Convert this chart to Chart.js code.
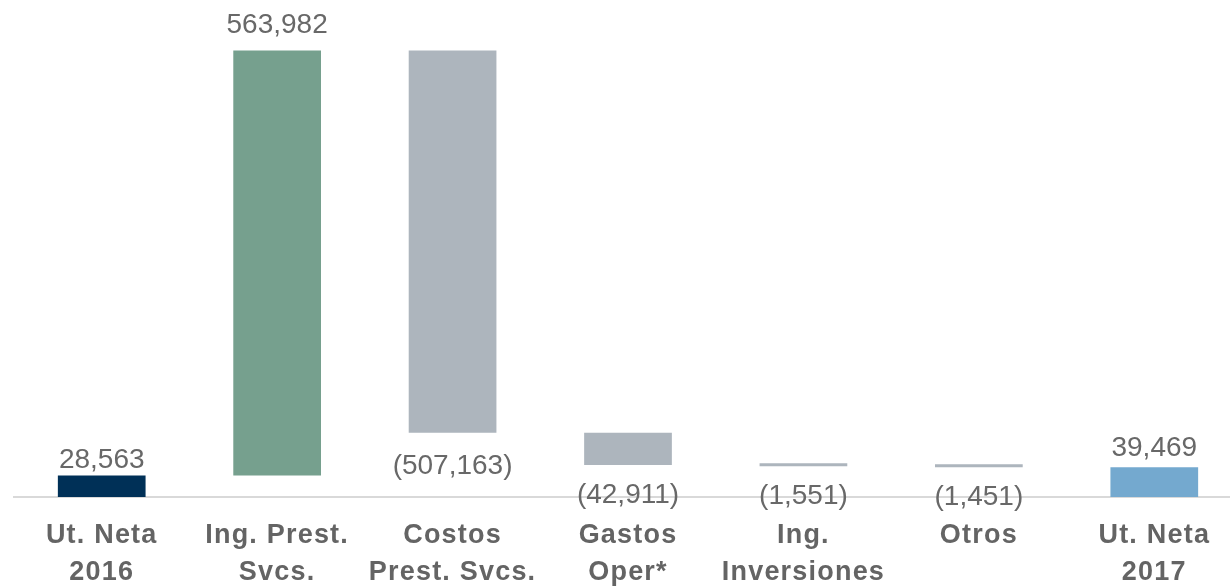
<!DOCTYPE html>
<html><head><meta charset="utf-8">
<script src="https://cdn.jsdelivr.net/npm/chart.js@4"></script>
<style>html,body{margin:0;padding:0;overflow:hidden;background:#fff;width:1230px;height:586px}
canvas{display:block}</style></head>
<body><canvas id="c" width="1242" height="586"></canvas>
<script>
const categories = [["Ut. Neta","2016"],["Ing. Prest.","Svcs."],["Costos","Prest. Svcs."],["Gastos","Oper*"],["Ing.","Inversiones"],["Otros"],["Ut. Neta","2017"]];
const values = [28563, 563982, -507163, -42911, -1551, -1451, 39469];
const isTotal = [true, false, false, false, false, false, true];
const barColors = ['#003057','#76a08e','#adb5bd','#adb5bd','#adb5bd','#adb5bd','#74a9cf'];

const fmt = v => { const s = Math.abs(v).toLocaleString('en-US'); return v < 0 ? '(' + s + ')' : s; };

const ranges = [];
let running = 0;
values.forEach((v, i) => {
  if (isTotal[i]) { ranges.push([0, v]); running = v; }
  else { ranges.push([running, running + v]); running += v; }
});

const labelOffsets = [7, 18, 41, 38, 38, 38, 11];

const labelPlugin = {
  id: 'vlabels',
  beforeDraw(chart) { chart.ctx.letterSpacing = '1.2px'; },
  beforeDatasetsDraw(chart) { chart.ctx.letterSpacing = '0px'; },
  afterDatasetsDraw(chart) {
    const ctx = chart.ctx;
    const meta = chart.getDatasetMeta(0);
    ctx.save();
    ctx.letterSpacing = '0px';
    ctx.font = '28px "Liberation Sans", Arial, sans-serif';
    ctx.fillStyle = '#686868';
    ctx.textAlign = 'center';
    ctx.textBaseline = 'alphabetic';
    meta.data.forEach((bar, i) => {
      const p = bar.getProps(['x', 'y', 'base'], true);
      const top = Math.min(p.y, p.base), bottom = Math.max(p.y, p.base);
      const v = values[i];
      if (v >= 0) ctx.fillText(fmt(v), p.x, top - labelOffsets[i]);
      else ctx.fillText(fmt(v), p.x, bottom + labelOffsets[i]);
    });
    ctx.restore();
  }
};

new Chart(document.getElementById('c'), {
  type: 'bar',
  data: {
    labels: categories,
    datasets: [{
      data: ranges,
      backgroundColor: barColors,
      borderWidth: 0,
      borderSkipped: false,
      barPercentage: 0.5,
      categoryPercentage: 1,
      minBarLength: 3
    }]
  },
  options: {
    responsive: false,
    animation: false,
    devicePixelRatio: 1,
    layout: { padding: { left: 14, right: 0, top: 45, bottom: 0 } },
    plugins: { legend: { display: false }, tooltip: { enabled: false } },
    scales: {
      x: {
        grid: { display: false, drawTicks: false },
        border: { display: true, color: '#d9d9d9', width: 2 },
        ticks: {
          autoSkip: false, maxRotation: 0, minRotation: 0,
          padding: 20,
          color: '#646464',
          font: { family: '"Liberation Sans", Arial, sans-serif', size: 27, weight: 'bold', lineHeight: 1.36 }
        },
        afterFit: s => { s.height = 89; }
      },
      y: { display: false, min: 0, max: 600000 }
    }
  },
  plugins: [labelPlugin]
});
</script></body></html>
